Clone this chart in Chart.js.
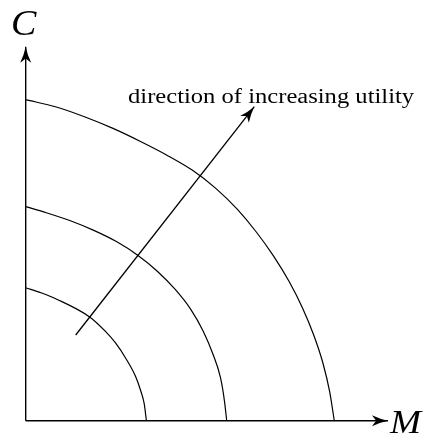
<!DOCTYPE html>
<html><head><meta charset="utf-8">
<script src="https://cdn.jsdelivr.net/npm/chart.js@4"></script>
<style>html,body{margin:0;padding:0;background:#fff;overflow:hidden}</style>
</head><body>
<canvas id="c" width="424" height="437"></canvas>
<script>
// ---- data (units: M on x, C on y) ----
const axisNames = ['M', 'C'];
const annotationText = 'direction of increasing utility';

const innerM  = [0, 15.3, 31, 64.3, 80, 90, 100, 110, 115, 118.5, 120.7];
const innerC  = [133, 127.9, 121.5, 103.5, 89, 77.5, 62.5, 44, 30, 17, 0];

const middleM = [0, 20.6, 44.7, 68.1, 90.7, 112.0, 131.6, 149.3, 164.9, 177.4, 187.2, 194.8, 198.9, 201];
const middleC = [214, 208.0, 199.9, 190.3, 179.1, 165.5, 149.5, 131.5, 111.6, 89.75, 66.7, 43.05, 18.65, 0];

const outerM  = [0, 30.6, 59.4, 87.3, 114.3, 140.8, 166.5, 190.1, 211.5, 230.6, 247.9, 263.3, 276.7, 288.0, 297.2, 304.0, 308.6];
const outerC  = [321, 313.7, 303.7, 292.3, 279.5, 265.8, 250.6, 232.3, 211.5, 188.7, 164.6, 139.4, 113.0, 85.7, 57.7, 28.9, 0];

const axisM_M = [0, 362.3];   // horizontal (M) axis extent
const axisM_C = [0, 0];
const axisC_M = [0, 0];       // vertical (C) axis extent
const axisC_C = [0, 374];
const dirM = [50, 228.6];     // direction arrow
const dirC = [85.7, 314];

function pts(xs, ys){ return xs.map((x,i)=>({x:x, y:ys[i]})); }

function drawHead(ctx, x0, y0, x1, y1, L, W){
  const dx = x1-x0, dy = y1-y0, d = Math.hypot(dx,dy);
  const ux = dx/d, uy = dy/d, nx = -uy, ny = ux;
  const bx = x1 - L*ux, by = y1 - L*uy;
  const ix = x1 - 0.74*L*ux, iy = y1 - 0.74*L*uy;
  ctx.beginPath();
  ctx.moveTo(x1, y1);
  ctx.quadraticCurveTo(x1 - 0.5*L*ux + 0.3*W*nx, y1 - 0.5*L*uy + 0.3*W*ny, bx + W*nx, by + W*ny);
  ctx.quadraticCurveTo(x1 - 0.8*L*ux + 0.2*W*nx, y1 - 0.8*L*uy + 0.2*W*ny, ix, iy);
  ctx.quadraticCurveTo(x1 - 0.8*L*ux - 0.2*W*nx, y1 - 0.8*L*uy - 0.2*W*ny, bx - W*nx, by - W*ny);
  ctx.quadraticCurveTo(x1 - 0.5*L*ux - 0.3*W*nx, y1 - 0.5*L*uy - 0.3*W*ny, x1, y1);
  ctx.closePath();
  ctx.fill();
}

function drawFit(ctx, text, font, left, baseline, width){
  ctx.font = font;
  const m = ctx.measureText(text);
  const inkW = m.actualBoundingBoxLeft + m.actualBoundingBoxRight;
  const sx = width / inkW;
  ctx.save();
  ctx.translate(left + m.actualBoundingBoxLeft*sx, baseline);
  ctx.scale(sx, 1);
  ctx.textBaseline = 'alphabetic';
  ctx.textAlign = 'left';
  ctx.fillText(text, 0, 0);
  ctx.restore();
}

const SERIF = '"Liberation Serif", "Times New Roman", Times, serif';

const deco = {
  id: 'deco',
  afterDatasetsDraw(chart){
    const ctx = chart.ctx, xs = chart.scales.x, ys = chart.scales.y;
    ctx.save();
    ctx.fillStyle = '#000';
    chart.data.datasets.forEach((ds, i) => {
      if (!ds.arrowHead) return;
      const p = chart.getDatasetMeta(i).data;
      const a = p[p.length-2], b = p[p.length-1];
      drawHead(ctx, a.x, a.y, b.x, b.y, 16, 5.5);
    });
    drawFit(ctx, annotationText, '20.5px ' + SERIF,
            xs.getPixelForValue(102.3), ys.getPixelForValue(318), 287);
    drawFit(ctx, axisNames[1], 'italic 35px ' + SERIF,
            xs.getPixelForValue(-13.7), ys.getPixelForValue(385.7), 25);
    drawFit(ctx, axisNames[0], 'italic 34px ' + SERIF,
            xs.getPixelForValue(363.3), ys.getPixelForValue(-12.3), 34);
    ctx.restore();
  }
};

const lineStyle = {showLine:true, borderColor:'#000', borderWidth:1.2, pointRadius:0, fill:false, clip:false};

new Chart(document.getElementById('c'), {
  type: 'scatter',
  data: {
    datasets: [
      Object.assign({label:'U1', data: pts(innerM, innerC), cubicInterpolationMode:'monotone'}, lineStyle),
      Object.assign({label:'U2', data: pts(middleM, middleC), cubicInterpolationMode:'monotone'}, lineStyle),
      Object.assign({label:'U3', data: pts(outerM, outerC), cubicInterpolationMode:'monotone'}, lineStyle),
      Object.assign({label:'M axis', data: pts(axisM_M, axisM_C), tension:0, arrowHead:true}, lineStyle, {borderWidth:1.4}),
      Object.assign({label:'C axis', data: pts(axisC_M, axisC_C), tension:0, arrowHead:true}, lineStyle, {borderWidth:1.4}),
      Object.assign({label:'direction', data: pts(dirM, dirC), tension:0, arrowHead:true}, lineStyle, {borderWidth:1.3})
    ]
  },
  options: {
    responsive: false,
    animation: false,
    devicePixelRatio: 1,
    layout: {padding: {left: 25.7, right: 0, top: 0, bottom: 16.3}},
    plugins: {legend: {display:false}, tooltip: {enabled:false}},
    scales: {
      x: {type:'linear', min:0, max:398.3, display:false},
      y: {type:'linear', min:0, max:420.7, display:false}
    }
  },
  plugins: [deco]
});
</script>
</body></html>
